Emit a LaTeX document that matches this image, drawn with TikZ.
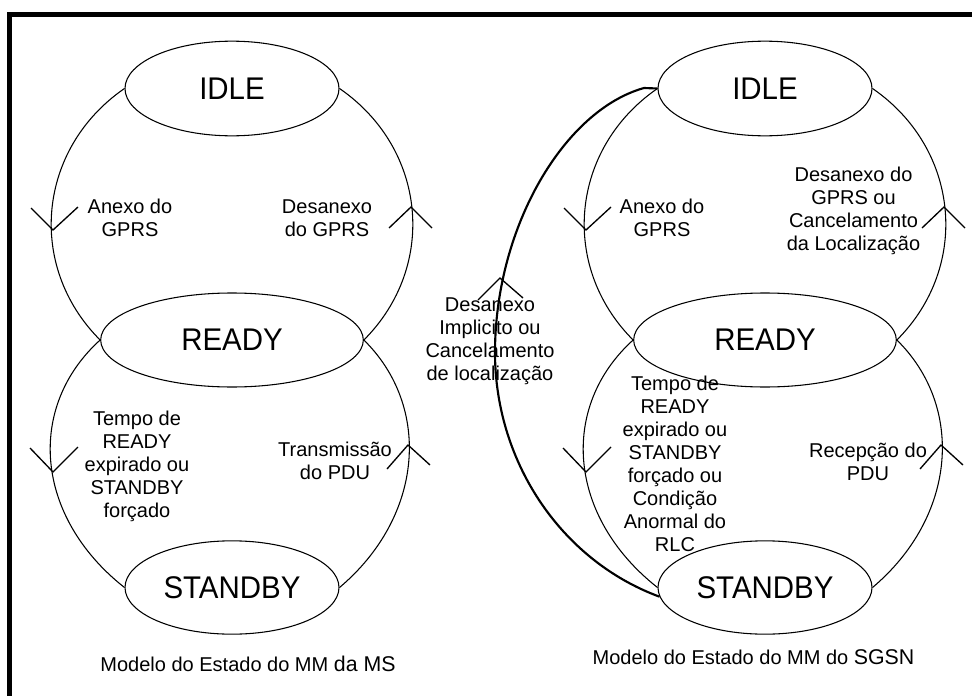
\documentclass[tikz,border=0pt]{standalone}
\usepackage{fontspec}
\setmainfont{Liberation Sans}
\newfontfamily\statefont[FakeStretch=0.94]{Liberation Sans}
\usetikzlibrary{shapes.geometric}
\begin{document}
\begin{tikzpicture}[x=0.75pt,y=-0.75pt,
  state/.style={ellipse, draw, line width=0.8pt, inner sep=0pt, font=\statefont\fontsize{23.5}{26}\selectfont},
  lbl/.style={align=center, inner sep=0pt, font=\fontsize{15}{17.25}\selectfont},
  captxt/.style={inner sep=0pt, font=\fontsize{15}{18}\selectfont},
  arcline/.style={line width=0.8pt},
  chev/.style={line width=1pt},
  longline/.style={line width=1.6pt}
]
\useasboundingbox (0,0) rectangle (972,696);
\draw[line width=3.75pt] (9.5,696) -- (9.5,14.5) -- (972,14.5);

% ---------- labels ----------
\node[lbl] (tA1) at (130,218) {Anexo do\\GPRS};
\node[lbl] (tA2) at (327,218) {Desanexo\\do GPRS};
\node[lbl] (tA3) at (137,466) {Tempo de\\READY\\expirado ou\\STANDBY\\forçado};
\node[lbl] (tA4) at (335,461) {Transmissão\\do PDU};
\node[captxt] (capA) at (248,664) {Modelo do Estado do MM {\fontsize{16}{18}\selectfont da MS}};

\node[lbl] (tB1) at (662,218) {Anexo do\\GPRS};
\node[lbl] (tB2) at (853.5,211) {Desanexo do\\GPRS ou\\Cancelamento\\da Localização};
\node[lbl] (tB3) at (490,341) {Desanexo\\Implicito ou\\Cancelamento\\de localização};
\node[lbl] (tB4) at (675,464) {Tempo de\\READY\\expirado ou\\STANDBY\\forçado ou\\Condição\\Anormal do\\RLC};
\node[lbl] (tB5) at (868,462) {Recepção do\\PDU};
\node[captxt] (capB) at (753.5,657) {Modelo do Estado do MM do {\fontsize{16}{18}\selectfont SGSN}};

% ---------- left model ----------
\node[state, minimum width=160.5pt, minimum height=71pt] (idleA) at (232,88.5) {IDLE};
\node[state, minimum width=197pt, minimum height=70.5pt] (readyA) at (232,340) {READY};
\node[state, minimum width=160.5pt, minimum height=70pt] (standbyA) at (232,587.5) {STANDBY};

\draw[arcline] (idleA.west) .. controls +(-87,60) and +(-74,-74) .. (readyA.west);
\draw[arcline] (idleA.east) .. controls +(87,60) and +(74,-74) .. (readyA.east);
\draw[arcline] (readyA.west) .. controls +(-74,67) and +(-90,-71) .. (standbyA.west);
\draw[arcline] (readyA.east) .. controls +(68,67) and +(84,-71) .. (standbyA.east);

\draw[chev] (31,208) -- (53,230) -- (78,207);
\draw[chev] (389,228) -- (411,207) -- (432,228);
\draw[chev] (30,448) -- (53,472) -- (78,447);
\draw[chev] (387,469) -- (408,445) -- (430,465);

% ---------- right model ----------
\node[state, minimum width=160.5pt, minimum height=71pt] (idleB) at (765,88.5) {IDLE};
\node[state, minimum width=197pt, minimum height=70.5pt] (readyB) at (765,340) {READY};
\node[state, minimum width=160.5pt, minimum height=70pt] (standbyB) at (765,587.5) {STANDBY};

\draw[arcline] (idleB.west) .. controls +(-87,60) and +(-74,-74) .. (readyB.west);
\draw[arcline] (idleB.east) .. controls +(87,60) and +(74,-74) .. (readyB.east);
\draw[arcline] (readyB.west) .. controls +(-74,67) and +(-90,-71) .. (standbyB.west);
\draw[arcline] (readyB.east) .. controls +(68,67) and +(84,-71) .. (standbyB.east);

\draw[chev] (564,208) -- (586,230) -- (611,207);
\draw[chev] (922,228) -- (944,207) -- (965,228);
\draw[chev] (563,448) -- (586,472) -- (611,447);
\draw[chev] (920,469) -- (941,445) -- (963,465);

% long transition STANDBY -> IDLE
\coordinate (via) at (495,350);
\coordinate (kink) at (644,88);
\draw[longline] (standbyB.185) .. controls (560,560) and (494,460) .. (via)
  .. controls (496,225) and (565,110) .. (kink) -- (idleB.west);
\draw[chev] (478,300) -- (500,278) -- (523,298);
\end{tikzpicture}
\end{document}
